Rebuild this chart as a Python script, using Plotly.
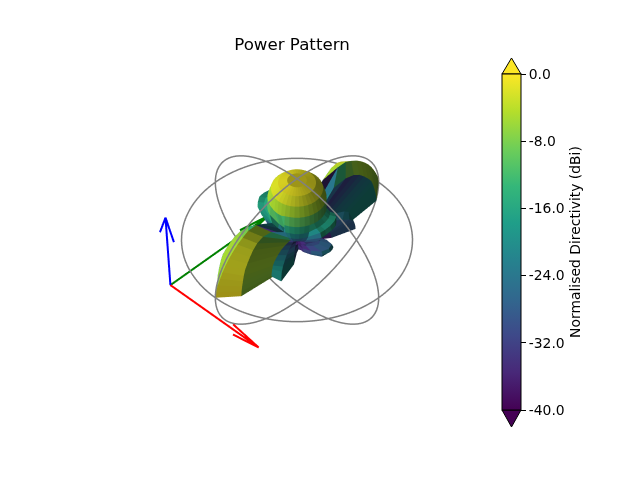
import numpy as np
import plotly.graph_objects as go
from plotly.colors import sample_colorscale, unlabel_rgb

# directivity in dB, one quadrant, rows are theta, columns are phi (the pattern is mirrored in x and y)
theta_deg = [0, 5, 10, 15, 20, 25, 30, 35, 40, 45, 50, 55, 60, 65, 70, 75, 80, 85, 90]
phi_quadrant_deg = [0, 10, 20, 30, 40, 50, 60, 70, 80, 90]
quadrant_db = [
    [-0.6, -0.6, -0.6, -0.6, -0.6, -0.6, -0.6, -0.6, -0.6, -0.6],
    [-0.9, -0.9, -0.9, -0.9, -0.9, -0.9, -0.9, -0.9, -0.9, -0.9],
    [-2.0, -2.0, -2.0, -2.0, -2.0, -2.0, -2.0, -2.0, -2.0, -2.0],
    [-5.0, -5.0, -5.0, -5.0, -5.0, -5.0, -5.0, -5.0, -5.0, -5.0],
    [-10, -10, -10, -10, -10, -10, -10, -10.5, -12, -12],
    [-15.5, -15.5, -15.5, -15.5, -15.5, -15.5, -15.5, -15.5, -22, -20],
    [-17, -16.5, -16, -16.5, -17, -20, -20, -21, -24, -35],
    [-16, -15.5, -15, -15.5, -17, -26, -26, -27, -13, -5],
    [-18, -17, -17, -18, -21, -31, -31, -32, -8, -2.8],
    [-24, -23, -23, -24, -27, -36, -33, -30, -6, -2.4],
    [-30, -30, -30, -31, -33, -36, -30, -27, -5.4, -2],
    [-27, -28, -31, -35, -35, -33, -27, -24, -5.4, -1.8],
    [-22, -23, -27, -31, -35, -29, -24, -22, -5.4, -1.6],
    [-22, -23, -27, -30, -34, -28, -22, -20, -5.4, -1.4],
    [-24, -24, -28, -31, -34, -28, -20, -19, -5.8, -1.2],
    [-27, -28, -30, -33, -34, -28, -19, -19, -6.2, -1],
    [-36, -36, -36, -36, -36, -28, -19, -19, -6.4, -0.6],
    [-36, -36, -36, -36, -36, -28, -19, -19, -6.4, -0.2],
    [-36, -36, -36, -37, -36, -28, -19, -20, -6.4, 0],
]

# the side facing the viewer has no skirt, the main lobe just falls away there
front_theta_deg = [30, 35, 40, 45]
front_phi_deg = [310, 320, 330, 340]
front_db = [
    [-21, -21, -21, -20],
    [-27, -27, -26, -24],
    [-32, -32, -31, -28],
    [-36, -36, -35, -32],
]

# axis arrows as (start, vector)
arrow_start = [-0.775, -0.775, -0.736]
arrow_x = [1.08, 0, 0]
arrow_y = [0, 1.2, 0]
arrow_z = [-0.03, -0.03, 1.1]

cbar_ticks = [0, -8, -16, -24, -32, -40]
cbar_labels = ["0.0", "-8.0", "-16.0", "-24.0", "-32.0", "-40.0"]

db_min = -40
db_max = 0

# mirror the quadrant around to a full turn of phi
q = np.array(quadrant_db, dtype=float)
db = np.hstack([q, q[:, -2::-1], q[:, 1:], q[:, -2::-1]])
phi_deg = np.arange(db.shape[1]) * 10
for a, th_f in enumerate(front_theta_deg):
    for b, ph_f in enumerate(front_phi_deg):
        db[theta_deg.index(th_f), ph_f // 10] = front_db[a][b]

th, ph = np.meshgrid(np.radians(theta_deg), np.radians(phi_deg), indexing="ij")
r = np.clip((db - db_min) / (db_max - db_min), 0, 1)
X = r * np.sin(th) * np.cos(ph)
Y = r * np.sin(th) * np.sin(ph)
Z = r * np.cos(th)

# flat faces coloured from their first corner, shaded like a low light from the lower left
light = np.array([np.cos(np.radians(225)) * np.cos(np.radians(19.47)),
                  np.sin(np.radians(225)) * np.cos(np.radians(19.47)),
                  np.sin(np.radians(19.47))])

P = np.stack([X, Y, Z], axis=-1)
nt, np_ = db.shape
idx = np.arange(nt * np_).reshape(nt, np_)
I, J, K, colors = [], [], [], []
for a in range(nt - 1):
    for b in range(np_ - 1):
        v1 = P[a, b] - P[a, b + 1]
        v2 = P[a, b + 1] - P[a + 1, b + 1]
        n = -np.cross(v1, v2)
        norm = np.linalg.norm(n)
        shade = 0.0 if norm == 0 else float(n @ light / norm)
        factor = 0.3 + 0.7 * (shade + 1) / 2
        t = float(np.clip((db[a, b] - db_min) / (db_max - db_min), 0, 1))
        rgb = unlabel_rgb(sample_colorscale("Viridis", [t])[0])
        col = "rgb(%d,%d,%d)" % tuple(c * factor for c in rgb)
        I += [idx[a, b], idx[a, b]]
        J += [idx[a, b + 1], idx[a + 1, b + 1]]
        K += [idx[a + 1, b + 1], idx[a + 1, b]]
        colors += [col, col]

fig = go.Figure()

fig.add_trace(go.Mesh3d(x=X.ravel(), y=Y.ravel(), z=Z.ravel(), i=I, j=J, k=K,
                        facecolor=colors, flatshading=True, hoverinfo="skip",
                        lighting=dict(ambient=1, diffuse=0, specular=0, fresnel=0, roughness=1)))

# unit rings
t = np.radians(np.arange(0, 361, 3))
rings = [(np.cos(t), np.sin(t), 0 * t), (np.cos(t), 0 * t, np.sin(t)), (0 * t, np.cos(t), np.sin(t))]
for rx, ry, rz in rings:
    fig.add_trace(go.Scatter3d(x=rx, y=ry, z=rz, mode="lines", line=dict(color="grey", width=3),
                               hoverinfo="skip"))


def arrow(vec, side, color):
    start = np.array(arrow_start)
    vec = np.array(vec, dtype=float)
    side = np.array(side, dtype=float)
    tip = start + vec
    length = np.linalg.norm(vec)
    back = tip - 0.3 * vec * np.cos(np.radians(15))
    h1 = back + 0.3 * length * np.sin(np.radians(15)) * side
    h2 = back - 0.3 * length * np.sin(np.radians(15)) * side
    pts = np.array([start, tip, h1, tip, h2])
    fig.add_trace(go.Scatter3d(x=pts[:, 0], y=pts[:, 1], z=pts[:, 2], mode="lines",
                               line=dict(color=color, width=4), hoverinfo="skip"))


arrow(arrow_x, [0, 0, 1], "red")
arrow(arrow_y, [0, 0, 1], "green")
arrow(arrow_z, [1, 0, 0], "blue")

# only here for the colorbar
fig.add_trace(go.Scatter3d(x=[0, 0], y=[0, 0], z=[0, 0], mode="markers", hoverinfo="skip",
                           marker=dict(size=0.1, opacity=0, color=[db_min, db_max], cmin=db_min, cmax=db_max,
                                       colorscale="Viridis", showscale=True,
                                       colorbar=dict(x=502 / 640, xanchor="left", xpad=0, ypad=0,
                                                     y=1 - 74 / 480, yanchor="top",
                                                     lenmode="pixels", len=336,
                                                     thicknessmode="pixels", thickness=19,
                                                     outlinecolor="black", outlinewidth=1,
                                                     tickvals=cbar_ticks, ticktext=cbar_labels,
                                                     ticks="outside", ticklen=5, tickwidth=1, tickcolor="black",
                                                     tickfont=dict(family="DejaVu Sans", size=13.9, color="black"),
                                                     title=dict(text="Normalised Directivity (dBi)", side="right",
                                                                font=dict(family="DejaVu Sans", size=13.9,
                                                                          color="black"))))))

eye = 2.0
scale = 1.54
hidden = dict(visible=False, range=[-1.6, 1.6])
fig.update_layout(
    width=640, height=480, margin=dict(l=0, r=0, t=0, b=0),
    paper_bgcolor="white", showlegend=False,
    title=dict(text="Power Pattern", x=292 / 640, xanchor="center", y=1 - 44 / 480, yanchor="middle",
               font=dict(family="DejaVu Sans", size=16.67, color="black")),
    scene=dict(domain=dict(x=[0, 594 / 640], y=[0, 1]),
               xaxis=hidden, yaxis=hidden, zaxis=hidden,
               aspectmode="manual", aspectratio=dict(x=scale, y=scale, z=scale * 0.75),
               camera=dict(eye=dict(x=0.5 * eye, y=-0.5 * eye, z=0.7071 * eye),
                           up=dict(x=0, y=0, z=1), center=dict(x=0, y=0, z=0),
                           projection=dict(type="orthographic"))),
    shapes=[
        dict(type="path", xref="paper", yref="paper", line=dict(color="black", width=1), fillcolor="#fde725",
             path="M %f %f L %f %f L %f %f Z" % (502 / 640, 1 - 74 / 480, 521 / 640, 1 - 74 / 480, 511.5 / 640, 1 - 58 / 480)),
        dict(type="path", xref="paper", yref="paper", line=dict(color="black", width=1), fillcolor="#440154",
             path="M %f %f L %f %f L %f %f Z" % (502 / 640, 1 - 410 / 480, 521 / 640, 1 - 410 / 480, 511.5 / 640, 1 - 427 / 480)),
    ],
)

# the page's default body margin would shift everything by 8px
fig.write_html("out.html", config=dict(displayModeBar=False),
               post_script="document.body.style.margin = '0';")
